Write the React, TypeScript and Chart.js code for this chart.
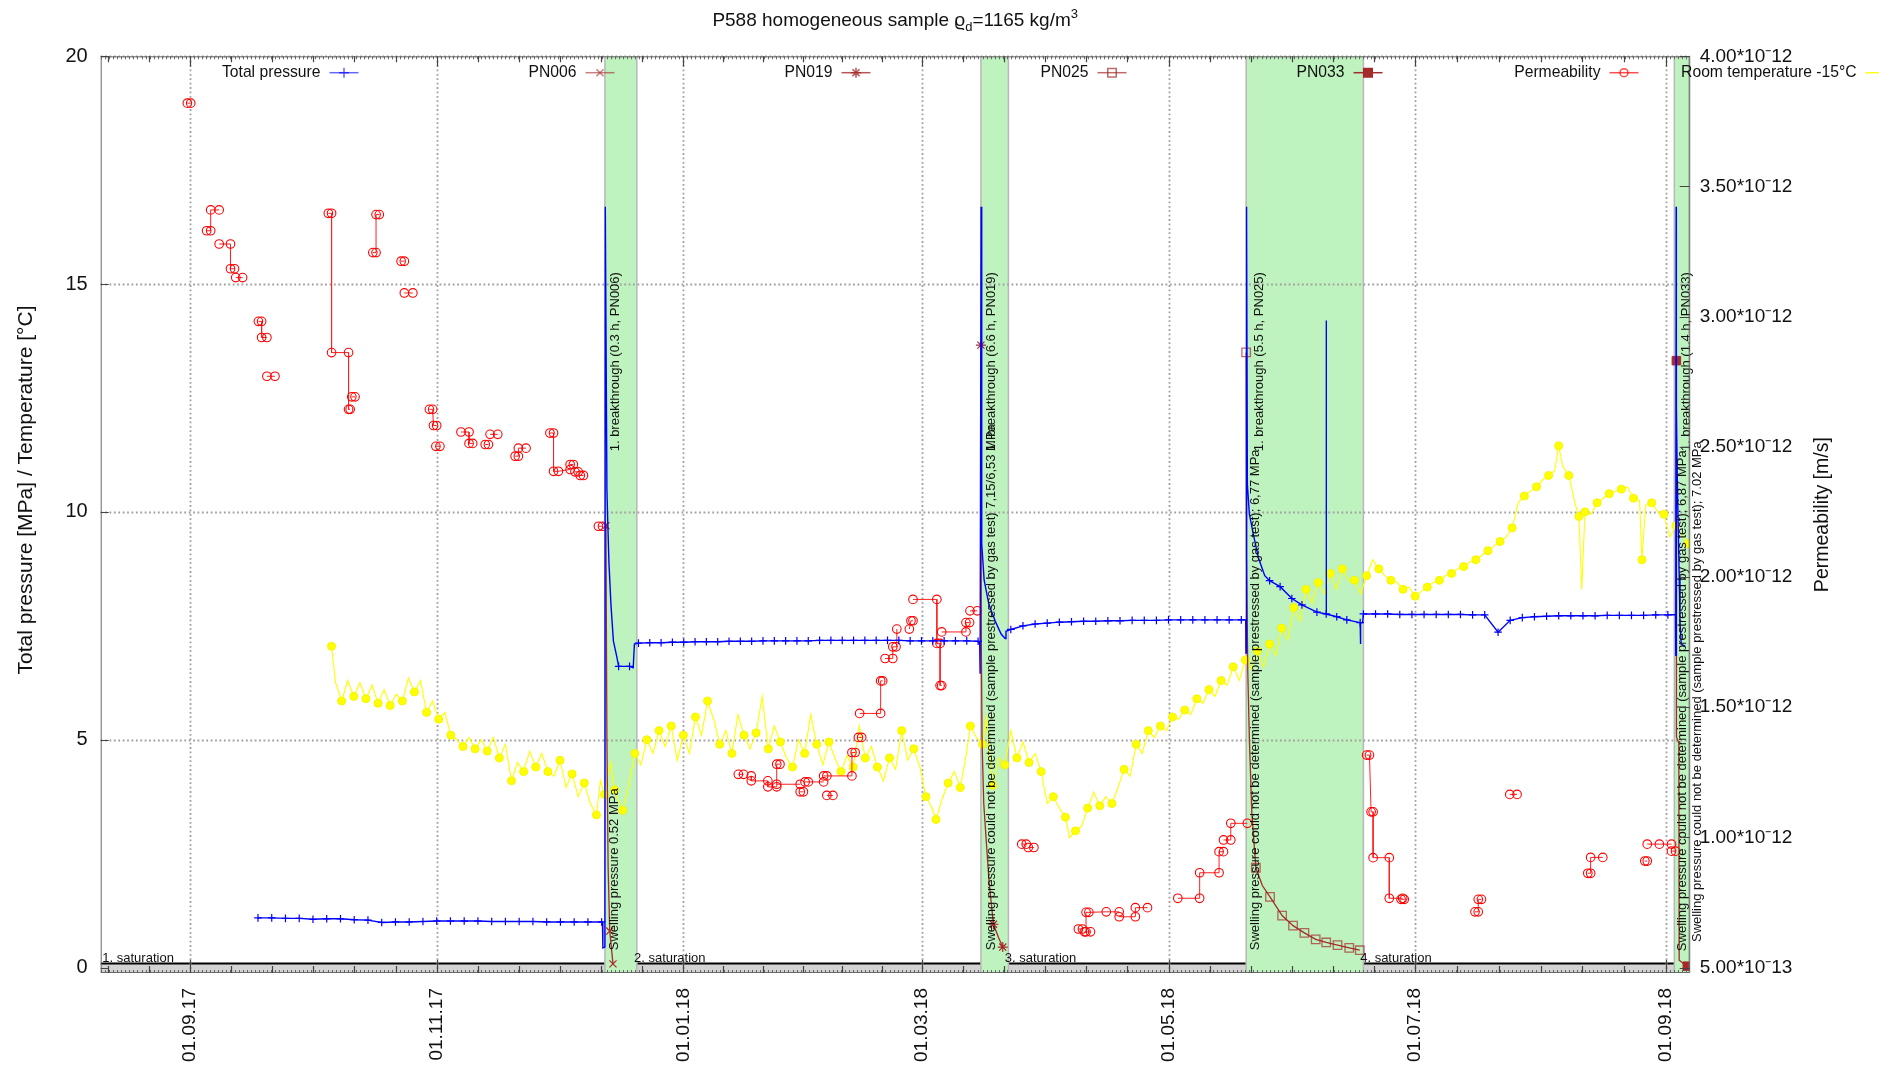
import React, { useEffect, useRef } from "react";
import { Chart, registerables } from "chart.js";
import { drawPoint } from "chart.js/helpers";

Chart.register(...registerables);

// ---------------- axes ----------------
// x values are days counted from 01.09.2017
const dateTickDays = [0, 61, 122, 181, 242, 303, 365];
const dateTickLabels = ["01.09.17", "01.11.17", "01.01.18", "01.03.18", "01.05.18", "01.07.18", "01.09.18"];
const xRange = [-22.1, 370.9];
const pressureTicks = [0, 5, 10, 15, 20];
const pressureRange = [-0.12, 20];
// permeability in units of 1e-12 m/s
const permTicks = [0.5, 1.0, 1.5, 2.0, 2.5, 3.0, 3.5, 4.0];
const permTickLabels = ["5.00*10⁻13", "1.00*10⁻12", "1.50*10⁻12", "2.00*10⁻12", "2.50*10⁻12", "3.00*10⁻12", "3.50*10⁻12", "4.00*10⁻12"];
const permRange = [0.479, 4.0];

// ---------------- phases ----------------
const gasTestBands = [[102.6, 110.5], [195.6, 202.4], [261.2, 290.2], [367.1, 370.9]];
const saturationPeriods = [[-22.1, 102.6], [110.5, 195.6], [202.4, 261.2], [290.2, 367.1]];
const saturationLabels = ["1. saturation", "2. saturation", "3. saturation", "4. saturation"];
const saturationLabelDays = [-21.7, 109.8, 201.5, 289.4];
const saturationBarTop = 0.09;

const bandNotes = [
  "Swelling pressure 0.52 MPa",
  "1. breakthrough (0.3 h, PN006)",
  "Swelling pressure could not be determined (sample prestressed by gas test) 7,15/6,53 MPa",
  "1. breakthrough (6.6 h, PN019)",
  "Swelling pressure could not be determined (sample prestressed by gas test); 6,77 MPa",
  "1. breakthrough (5.5 h, PN025)",
  "Swelling pressure could not be determined (sample prestressed by gas test); 6,87 MPa",
  "1. breakthrough (1.4 h, PN033)",
  "Swelling pressure could not be determined (sample prestressed by gas test); 7.02 MPa",
];
const bandNoteDays = [104.95, 105.3, 198.1, 198.3, 263.4, 264.4, 369.2, 370.2, 372.7];
const bandNoteValues = [0.38, 11.33, 0.38, 11.33, 0.38, 11.33, 0.36, 11.33, 0.56];

// ---------------- total pressure [MPa] ----------------
const pressureSeries = [
  [[16.8, 1.09], [20.2, 1.09], [23.6, 1.08], [27.0, 1.08], [30.4, 1.06], [33.8, 1.07], [37.2, 1.07], [40.6, 1.05], [44.0, 1.04], [47.4, 0.99], [50.8, 1.0], [54.2, 1.0], [57.6, 1.01], [61.0, 1.02], [64.4, 1.02], [67.8, 1.02], [71.2, 1.02], [74.6, 1.01], [78.0, 1.01], [81.4, 1.01], [84.8, 1.01], [88.2, 1.0], [91.6, 1.0], [95.0, 1.0], [98.4, 1.0], [101.8, 1.0]],
  [[106.0, 6.61], [108.7, 6.61]],
  [[110.9, 7.12], [113.7, 7.13], [116.5, 7.13], [119.3, 7.14], [122.1, 7.14], [124.9, 7.15], [127.7, 7.15], [130.5, 7.15], [133.3, 7.16], [136.1, 7.16], [138.9, 7.16], [141.7, 7.17], [144.5, 7.17], [147.3, 7.17], [150.1, 7.17], [152.9, 7.17], [155.7, 7.18], [158.5, 7.18], [161.3, 7.18], [164.1, 7.18], [166.9, 7.18], [169.7, 7.18], [172.5, 7.18], [175.3, 7.18], [178.1, 7.17], [180.9, 7.17], [183.7, 7.17], [186.5, 7.17], [189.3, 7.17], [192.1, 7.17], [194.9, 7.16]],
  [[203.0, 7.42], [206.0, 7.5], [209.0, 7.54], [212.0, 7.56], [215.0, 7.58], [218.0, 7.59], [221.0, 7.6], [224.0, 7.6], [227.0, 7.61], [230.0, 7.61], [233.0, 7.62], [236.0, 7.62], [239.0, 7.62], [242.0, 7.63], [245.0, 7.63], [248.0, 7.63], [251.0, 7.63], [254.0, 7.63], [257.0, 7.63], [260.0, 7.63]],
  [[267.0, 8.49], [269.6, 8.36], [272.5, 8.1], [275.0, 7.96], [278.7, 7.8], [281.0, 7.76], [283.6, 7.7], [286.1, 7.63], [289.4, 7.57]],
  [[290.2, 7.76], [293.2, 7.76], [296.2, 7.76], [299.2, 7.75], [302.2, 7.75], [305.2, 7.75], [308.2, 7.75], [311.2, 7.75], [314.2, 7.75], [317.2, 7.74], [320.2, 7.74], [323.5, 7.36], [326.5, 7.62], [329.5, 7.68], [332.5, 7.7], [335.5, 7.71], [338.5, 7.72], [341.5, 7.72], [344.5, 7.72], [347.5, 7.72], [350.5, 7.73], [353.5, 7.73], [356.5, 7.73], [359.5, 7.73], [362.5, 7.74], [365.5, 7.74]],
];
const pressureTransients = [
  [[101.8, 1.0], [102.0, 1.0], [102.1, 0.43], [102.6, 0.45], [102.7, 16.7], [103.1, 10.5], [103.3, 9.81], [103.6, 8.89], [104.1, 7.96], [104.7, 7.17], [105.5, 6.84], [106.0, 6.61]],
  [[108.7, 6.61], [109.6, 6.58], [109.9, 7.1], [110.9, 7.12]],
  [[194.9, 7.16], [195.3, 7.1], [195.4, 6.45], [195.6, 6.45], [195.65, 16.7], [195.8, 9.3], [196.4, 8.5], [197.6, 7.96], [199.3, 7.57], [200.6, 7.32], [201.6, 7.22], [201.8, 7.38], [203.0, 7.42]],
  [[260.0, 7.63], [261.1, 7.63], [261.15, 6.9], [261.25, 6.9], [261.3, 16.7], [261.5, 10.6], [262.0, 9.95], [263.0, 9.5], [264.2, 9.0], [265.8, 8.6], [267.0, 8.49]],
  [[281.0, 7.76], [281.02, 14.2], [281.04, 7.76]],
  [[289.4, 7.57], [289.45, 7.1], [289.55, 7.57], [290.0, 7.57], [290.2, 7.76]],
  [[365.5, 7.74], [367.4, 7.75], [367.45, 6.84], [367.55, 16.7], [367.6, 6.84]],
  [[367.6, 12.3], [367.8, 10.9], [368.1, 9.5], [368.3, 8.6], [368.5, 7.6], [368.8, 7.1], [369.8, 7.05]],
];

// ---------------- swelling-pressure decay curves [MPa] ----------------
const pn006 = [[102.85, 9.7], [103.1, 5.0], [103.4, 2.2], [103.8, 0.8], [104.6, 0.08]];
const pn019 = [[195.6, 13.66], [195.7, 7.0], [195.9, 4.9], [196.3, 3.6], [196.8, 2.94], [197.6, 1.9], [198.7, 0.95], [200.0, 0.65], [201.0, 0.45]];
const pn025 = [[261.2, 13.5], [261.3, 9.0], [261.6, 6.5], [262.0, 5.0], [262.6, 3.4], [263.6, 2.19], [265.2, 1.8], [267.1, 1.55], [270.1, 1.14], [272.8, 0.92], [275.6, 0.76], [278.4, 0.62], [281.0, 0.55], [283.8, 0.49], [286.7, 0.43], [289.3, 0.38]];
const pn033 = [[367.6, 13.32], [367.62, 5.06], [368.2, 4.93], [368.3, 0.16], [370.3, 0.03]];

// ---------------- permeability [1e-12 m/s] ----------------
const permeability = [
  [[-0.67, 3.82], [0.17, 3.82]],
  [[4.1, 3.33], [5.1, 3.33], [5.1, 3.41], [7.2, 3.41]],
  [[7.2, 3.279], [10.0, 3.279], [10.0, 3.184], [11.0, 3.184]],
  [[11.3, 3.15], [13.0, 3.15]],
  [[16.9, 2.982], [17.7, 2.982], [17.7, 2.92], [19.0, 2.92]],
  [[19.0, 2.771], [21.0, 2.771]],
  [[34.2, 3.397], [35.0, 3.397], [35.0, 2.862], [39.2, 2.862], [39.2, 2.644], [39.6, 2.644]],
  [[40.0, 2.692], [40.8, 2.692]],
  [[45.2, 3.246], [46.0, 3.246], [46.0, 3.392], [46.8, 3.392]],
  [[52.2, 3.213], [53.0, 3.213]],
  [[53.0, 3.091], [55.1, 3.091]],
  [[59.2, 2.644], [60.0, 2.644], [60.2, 2.582], [61.0, 2.582]],
  [[60.8, 2.502], [61.8, 2.502]],
  [[67.0, 2.557], [69.0, 2.557], [69.0, 2.513], [69.9, 2.513]],
  [[73.0, 2.509], [73.8, 2.509]],
  [[74.2, 2.548], [76.1, 2.548]],
  [[80.4, 2.464], [81.2, 2.464], [81.2, 2.495], [83.1, 2.495]],
  [[89.0, 2.553], [89.9, 2.553], [89.9, 2.406], [91.1, 2.406], [94.0, 2.413]],
  [[94.0, 2.432], [94.8, 2.432]],
  [[95.2, 2.404], [96.0, 2.404]],
  [[96.5, 2.39], [97.3, 2.39]],
  [[101.0, 2.195], [102.0, 2.195]],
  [[135.6, 1.242], [136.9, 1.242]],
  [[138.8, 1.236], [138.8, 1.217], [142.9, 1.217], [142.9, 1.194], [145.1, 1.194], [145.1, 1.281], [145.9, 1.281]],
  [[145.1, 1.204], [150.9, 1.204]],
  [[150.9, 1.175], [151.7, 1.175]],
  [[152.1, 1.213], [152.9, 1.213], [156.7, 1.213]],
  [[157.5, 1.161], [159.0, 1.161]],
  [[156.7, 1.236], [157.5, 1.236], [163.7, 1.236], [163.7, 1.326], [164.5, 1.326]],
  [[165.3, 1.384], [166.1, 1.384]],
  [[165.6, 1.476], [170.8, 1.476], [170.8, 1.601], [171.3, 1.601]],
  [[171.9, 1.687], [173.8, 1.687], [173.8, 1.732], [174.6, 1.732], [174.8, 1.8]],
  [[177.9, 1.8], [178.3, 1.832], [178.8, 1.832]],
  [[178.8, 1.914], [184.7, 1.914], [184.7, 1.745], [185.5, 1.745], [185.5, 1.583], [185.9, 1.583]],
  [[185.9, 1.789], [191.9, 1.789], [191.9, 1.825], [192.8, 1.825]],
  [[192.9, 1.87], [194.7, 1.87]],
  [[205.7, 0.974], [206.8, 0.974]],
  [[207.3, 0.961], [208.7, 0.961]],
  [[219.7, 0.648], [220.7, 0.648]],
  [[221.2, 0.637], [222.7, 0.637]],
  [[221.6, 0.637], [221.6, 0.712], [222.3, 0.712], [226.6, 0.714], [229.8, 0.714]],
  [[229.8, 0.695], [233.8, 0.695], [233.8, 0.73], [236.8, 0.73]],
  [[244.3, 0.766], [249.7, 0.766], [249.7, 0.864], [254.5, 0.864], [254.5, 0.945], [255.6, 0.945]],
  [[255.6, 0.99], [257.4, 0.99], [257.4, 1.054], [261.5, 1.054]],
  [[291.0, 1.316], [291.7, 1.316], [292.1, 1.098], [292.6, 1.098], [292.6, 0.922], [296.6, 0.922], [296.6, 0.766], [299.9, 0.766]],
  [[299.5, 0.762], [300.3, 0.762]],
  [[317.8, 0.714], [318.6, 0.714], [318.6, 0.762], [319.4, 0.762]],
  [[326.4, 1.165], [328.2, 1.165]],
  [[345.7, 0.862], [346.4, 0.862], [346.4, 0.923], [349.4, 0.923]],
  [[359.8, 0.909], [360.4, 0.909]],
  [[360.4, 0.974], [363.4, 0.974], [366.4, 0.974]],
  [[366.4, 0.947], [367.4, 0.947]],
];

// ---------------- room temperature - 15 °C ----------------
const roomTemperature = [
  [35.0, 7.05], [36.0, 6.25], [37.5, 5.85], [39.0, 6.3], [40.5, 5.95], [42.0, 6.25], [43.5, 5.9], [45.0, 6.2], [46.5, 5.8], [48.0, 6.1],
  [49.5, 5.75], [51.0, 6.0], [52.5, 5.85], [54.0, 6.35], [55.5, 6.05], [57.0, 6.3], [58.5, 5.6], [60.0, 5.85], [61.5, 5.45], [63.0, 5.6],
  [64.5, 5.1], [66.0, 5.0], [67.5, 4.85], [69.0, 5.05], [70.5, 4.8], [72.0, 5.0], [73.5, 4.75], [75.0, 5.05], [76.5, 4.6], [78.0, 4.9],
  [79.5, 4.1], [81.0, 4.5], [82.5, 4.3], [84.0, 4.75], [85.5, 4.4], [87.0, 4.7], [88.5, 4.3], [90.0, 4.2], [91.5, 4.55], [93.0, 3.95],
  [94.5, 4.25], [96.0, 3.75], [97.5, 4.05], [99.0, 3.6], [100.5, 3.35], [101.5, 4.1], [102.5, 3.8], [104.0, 4.5], [105.0, 3.9], [106.0, 3.65],
  [107.0, 3.45], [108.5, 4.0], [110.0, 4.7], [111.5, 4.45], [113.0, 5.0], [114.5, 4.7], [116.0, 5.2], [117.5, 4.85], [119.0, 5.3], [120.5, 4.55],
  [122.0, 5.1], [123.5, 4.7], [125.0, 5.5], [126.5, 5.1], [128.0, 5.85], [129.5, 5.45], [131.0, 4.9], [132.5, 5.2], [134.0, 4.7], [135.5, 5.55],
  [137.0, 5.1], [138.5, 4.8], [140.0, 5.15], [141.5, 5.95], [143.0, 4.8], [144.5, 5.3], [146.0, 4.95], [147.5, 4.6], [149.0, 4.4], [150.5, 5.0],
  [152.0, 4.7], [153.5, 5.55], [155.0, 4.9], [156.5, 4.45], [158.0, 4.95], [159.5, 4.6], [161.0, 4.3], [162.5, 4.65], [164.0, 4.4], [165.5, 5.3],
  [167.0, 4.6], [168.5, 4.85], [170.0, 4.4], [171.5, 4.1], [173.0, 4.6], [174.5, 4.35], [176.0, 5.2], [177.5, 4.55], [179.0, 4.8], [180.5, 4.4],
  [182.0, 3.75], [183.5, 3.5], [184.5, 3.25], [186.0, 3.7], [187.5, 4.05], [189.0, 4.3], [190.5, 3.95], [192.0, 4.7], [193.0, 5.3], [194.5, 5.05],
  [196.0, 4.9], [197.0, 5.5], [198.5, 4.0], [200.0, 4.6], [201.5, 4.45], [203.0, 5.2], [204.5, 4.6], [206.0, 4.95], [207.5, 4.5], [209.0, 4.7],
  [210.5, 4.3], [212.0, 3.6], [213.5, 3.75], [215.0, 3.5], [216.5, 3.3], [217.5, 2.85], [219.0, 3.0], [220.5, 3.1], [222.0, 3.5], [223.5, 3.85],
  [225.0, 3.55], [226.5, 3.75], [228.0, 3.6], [229.5, 3.95], [231.0, 4.35], [232.5, 4.2], [234.0, 4.9], [235.5, 4.7], [237.0, 5.2], [238.5, 5.05],
  [240.0, 5.3], [241.5, 5.2], [243.0, 5.5], [244.5, 5.45], [246.0, 5.65], [247.5, 5.55], [249.0, 5.9], [250.5, 5.8], [252.0, 6.1], [253.5, 5.95],
  [255.0, 6.3], [256.5, 6.2], [258.0, 6.6], [259.5, 6.3], [261.0, 6.75], [262.5, 6.55], [264.0, 6.95], [265.5, 6.6], [267.0, 7.1], [268.5, 6.85],
  [270.0, 7.45], [271.5, 7.2], [273.0, 7.9], [274.5, 7.6], [276.0, 8.3], [277.5, 8.0], [279.0, 8.45], [280.5, 8.2], [282.0, 8.65], [283.5, 8.3],
  [285.0, 8.75], [286.5, 8.5], [288.0, 8.5], [289.5, 8.2], [291.0, 8.6], [292.5, 8.95], [294.0, 8.75], [295.5, 8.6], [297.0, 8.5], [298.5, 8.45],
  [300.0, 8.3], [301.5, 8.35], [303.0, 8.15], [304.5, 8.25], [306.0, 8.35], [307.5, 8.45], [309.0, 8.5], [310.5, 8.6], [312.0, 8.65], [313.5, 8.75],
  [315.0, 8.8], [316.5, 8.9], [318.0, 8.95], [319.5, 9.05], [321.0, 9.15], [322.5, 9.25], [324.0, 9.35], [325.5, 9.45], [327.0, 9.65], [328.5, 10.2],
  [330.0, 10.35], [331.5, 10.45], [333.0, 10.55], [334.5, 10.7], [336.0, 10.8], [337.5, 10.9], [338.5, 11.45], [339.5, 11.0], [341.0, 10.8], [342.5, 10.2],
  [343.5, 9.9], [344.2, 8.3], [345.0, 10.0], [346.5, 9.95], [348.0, 10.2], [349.5, 10.3], [351.0, 10.4], [352.5, 10.45], [354.0, 10.5], [355.5, 10.55],
  [357.0, 10.3], [358.5, 10.25], [359.1, 8.95], [360.0, 10.15], [361.5, 10.2], [363.0, 10.0], [364.5, 9.95], [366.0, 9.45], [367.5, 9.7], [369.0, 9.5],
  [370.5, 9.3],
];

// ---------------- styling ----------------
const W = 1879;
const H = 1065;
const BROWN = "#a52a2a";
const FONT = (s: number) => `${s}px "Liberation Sans", Arial, Helvetica, sans-serif`;
const BAND_FILL = "rgb(190,242,190)";

const toXY = (pairs: number[][]) => pairs.map(([x, y]) => ({ x, y }));
const joinGroups = (groups: number[][][]) => {
  const out: any[] = [];
  groups.forEach((g, i) => {
    if (i > 0) out.push({ x: g[0][0], y: null });
    g.forEach(([x, y]) => out.push({ x, y }));
  });
  return out;
};

const legendEntries = [
  { label: "Total pressure", color: "rgba(0,0,255,0.6)", style: "cross", radius: 5, fill: false },
  { label: "PN006", color: "rgba(165,42,42,0.6)", style: "crossRot", radius: 5, fill: false },
  { label: "PN019", color: "rgba(165,42,42,0.8)", style: "star", radius: 5, fill: false },
  { label: "PN025", color: "rgba(165,42,42,0.7)", style: "rect", radius: 6, fill: false },
  { label: "PN033", color: "rgba(165,42,42,1)", style: "rect", radius: 6, fill: true },
  { label: "Permeability", color: "rgba(255,0,0,0.7)", style: "circle", radius: 4, fill: false },
  { label: "Room temperature -15°C", color: "rgba(255,255,0,0.9)", style: null, radius: 0, fill: false },
];

function minorTickDays() {
  const out: number[] = [];
  for (let i = 0; i < dateTickDays.length - 1; i++) {
    const step = (dateTickDays[i + 1] - dateTickDays[i]) / 6;
    for (let k = 1; k < 6; k++) out.push(dateTickDays[i] + k * step);
  }
  const firstStep = (dateTickDays[1] - dateTickDays[0]) / 6;
  for (let k = 1; dateTickDays[0] - k * firstStep >= xRange[0]; k++) out.push(dateTickDays[0] - k * firstStep);
  return out;
}

const decorPlugin = {
  id: "decor",
  beforeDatasetsDraw(chart: any) {
    const { ctx, chartArea: a, scales } = chart;
    const xs = scales.x;
    const ys = scales.y;
    ctx.save();
    const yTop = ys.getPixelForValue(saturationBarTop);
    for (const [s, e] of saturationPeriods) {
      const x0 = Math.max(a.left, xs.getPixelForValue(s));
      const x1 = Math.min(a.right, xs.getPixelForValue(e));
      ctx.fillStyle = "#d3d3d3";
      ctx.fillRect(x0, yTop, x1 - x0, a.bottom - yTop);
      ctx.strokeStyle = "#000";
      ctx.lineWidth = 2;
      ctx.beginPath();
      ctx.moveTo(x0, yTop);
      ctx.lineTo(x1, yTop);
      ctx.stroke();
    }
    for (const [s, e] of gasTestBands) {
      const x0 = xs.getPixelForValue(s);
      const x1 = Math.min(a.right, xs.getPixelForValue(e));
      ctx.fillStyle = BAND_FILL;
      ctx.fillRect(x0, a.top, x1 - x0, a.bottom - a.top);
      ctx.strokeStyle = "#b8b8b8";
      ctx.lineWidth = 1.5;
      ctx.beginPath();
      ctx.moveTo(x0, a.top);
      ctx.lineTo(x0, a.bottom);
      ctx.moveTo(x1, a.top);
      ctx.lineTo(x1, a.bottom);
      ctx.stroke();
    }
    ctx.strokeStyle = "#a0a0a0";
    ctx.lineWidth = 1.8;
    ctx.setLineDash([1.8, 2.6]);
    ctx.beginPath();
    for (const d of dateTickDays) {
      const px = Math.round(xs.getPixelForValue(d)) + 0.5;
      ctx.moveTo(px, a.top);
      ctx.lineTo(px, a.bottom);
    }
    for (const v of pressureTicks) {
      if (v <= 0) continue;
      const py = Math.round(ys.getPixelForValue(v)) + 0.5;
      ctx.moveTo(a.left, py);
      ctx.lineTo(a.right, py);
    }
    ctx.stroke();
    ctx.setLineDash([]);
    ctx.restore();
  },
  afterDatasetsDraw(chart: any) {
    const { ctx, scales } = chart;
    const xs = scales.x;
    const ys = scales.y;
    ctx.save();
    ctx.fillStyle = "#111";
    ctx.font = FONT(13);
    ctx.textAlign = "left";
    ctx.textBaseline = "middle";
    bandNotes.forEach((t, i) => {
      ctx.save();
      ctx.translate(xs.getPixelForValue(bandNoteDays[i]), ys.getPixelForValue(bandNoteValues[i]));
      ctx.rotate(-Math.PI / 2);
      ctx.fillText(t, 0, 0);
      ctx.restore();
    });
    ctx.textBaseline = "alphabetic";
    const yTop = ys.getPixelForValue(saturationBarTop);
    saturationLabels.forEach((t, i) => {
      ctx.fillText(t, xs.getPixelForValue(saturationLabelDays[i]), yTop - 1.5);
    });
    ctx.restore();
  },
  afterDraw(chart: any) {
    const { ctx, chartArea: a, scales } = chart;
    const xs = scales.x;
    const ys = scales.y;
    const y2 = scales.y2;
    ctx.save();
    ctx.strokeStyle = "#6a6a6a";
    ctx.lineWidth = 1;
    ctx.strokeRect(a.left + 0.5, a.top + 0.5, a.right - a.left - 1, a.bottom - a.top - 1);
    ctx.strokeStyle = "#666";
    ctx.beginPath();
    for (let d = Math.ceil(xRange[0]); d <= xRange[1]; d++) {
      const px = Math.round(xs.getPixelForValue(d)) + 0.5;
      ctx.moveTo(px, a.top);
      ctx.lineTo(px, a.top + 3);
      ctx.moveTo(px, a.bottom);
      ctx.lineTo(px, a.bottom - 3);
    }
    ctx.stroke();
    ctx.strokeStyle = "#444";
    ctx.lineWidth = 1.2;
    ctx.beginPath();
    for (const d of minorTickDays()) {
      const px = Math.round(xs.getPixelForValue(d)) + 0.5;
      ctx.moveTo(px, a.top);
      ctx.lineTo(px, a.top + 6);
      ctx.moveTo(px, a.bottom);
      ctx.lineTo(px, a.bottom - 7);
    }
    for (const d of dateTickDays) {
      const px = Math.round(xs.getPixelForValue(d)) + 0.5;
      ctx.moveTo(px, a.top);
      ctx.lineTo(px, a.top + 10);
      ctx.moveTo(px, a.bottom);
      ctx.lineTo(px, a.bottom - 13);
    }
    for (const v of pressureTicks) {
      const py = Math.round(ys.getPixelForValue(v)) + 0.5;
      ctx.moveTo(a.left, py);
      ctx.lineTo(a.left + 8, py);
    }
    for (const v of permTicks) {
      const py = Math.round(y2.getPixelForValue(v)) + 0.5;
      ctx.moveTo(a.right, py);
      ctx.lineTo(a.right - 10, py);
    }
    ctx.stroke();

    ctx.fillStyle = "#111";
    ctx.font = FONT(19);
    ctx.textAlign = "right";
    ctx.textBaseline = "middle";
    dateTickDays.forEach((d, i) => {
      ctx.save();
      ctx.translate(xs.getPixelForValue(d), a.bottom + 15);
      ctx.rotate(-Math.PI / 2);
      ctx.fillText(dateTickLabels[i], 0, 0);
      ctx.restore();
    });
    ctx.font = FONT(20);
    pressureTicks.forEach((v) => {
      ctx.fillText(String(v), a.left - 13, ys.getPixelForValue(v));
    });
    ctx.font = FONT(19);
    ctx.textAlign = "left";
    permTicks.forEach((v, i) => {
      ctx.fillText(permTickLabels[i], a.right + 10, y2.getPixelForValue(v));
    });
    ctx.textAlign = "center";
    ctx.save();
    ctx.font = FONT(21);
    ctx.translate(26, 490);
    ctx.rotate(-Math.PI / 2);
    ctx.fillText("Total pressure [MPa] / Temperature [°C]", 0, 0);
    ctx.restore();
    ctx.save();
    ctx.font = FONT(19.5);
    ctx.translate(1823, (a.top + a.bottom) / 2);
    ctx.rotate(-Math.PI / 2);
    ctx.fillText("Permeability [m/s]", 0, 0);
    ctx.restore();

    const parts = [
      { t: "P588 homogeneous sample ϱ", s: 19, dy: 0 },
      { t: "d", s: 13, dy: 5 },
      { t: "=1165 kg/m", s: 19, dy: 0 },
      { t: "3", s: 13, dy: -8 },
    ];
    let total = 0;
    parts.forEach((p) => {
      ctx.font = FONT(p.s);
      total += ctx.measureText(p.t).width;
    });
    let tx = (a.left + a.right) / 2 - total / 2;
    ctx.textAlign = "left";
    ctx.textBaseline = "alphabetic";
    parts.forEach((p) => {
      ctx.font = FONT(p.s);
      ctx.fillText(p.t, tx, 26 + p.dy);
      tx += ctx.measureText(p.t).width;
    });

    ctx.font = FONT(15.7);
    ctx.textBaseline = "middle";
    const ly = 72.7;
    legendEntries.forEach((e, i) => {
      const sx = 329.5 + 256 * i;
      ctx.fillStyle = "#111";
      ctx.textAlign = "right";
      ctx.fillText(e.label, sx - 9, ly);
      ctx.strokeStyle = e.color;
      ctx.lineWidth = 1.5;
      ctx.beginPath();
      ctx.moveTo(sx, ly);
      ctx.lineTo(sx + 29, ly);
      ctx.stroke();
      if (e.style) {
        ctx.fillStyle = e.fill ? e.color : "rgba(0,0,0,0)";
        drawPoint(ctx, { pointStyle: e.style, radius: e.radius, rotation: 0, borderWidth: 1.3 } as any, sx + 14.5, ly);
      }
    });
    ctx.restore();
  },
};

export default function App() {
  const ref = useRef<HTMLCanvasElement>(null);
  useEffect(() => {
    document.body.style.margin = "0";
    document.body.style.overflow = "hidden";
    const canvas = ref.current!;
    const chart = new Chart(canvas, {
      type: "line",
      data: {
        datasets: [
          {
            label: "Total pressure",
            data: joinGroups(pressureSeries),
            yAxisID: "y",
            borderColor: "#0000ff",
            borderWidth: 1.4,
            pointStyle: "cross",
            pointRadius: 3.8,
            pointBorderWidth: 1.2,
            pointBorderColor: "#0000ff",
            pointBackgroundColor: "rgba(0,0,0,0)",
            spanGaps: false,
            order: 0,
          },
          {
            label: "Total pressure (transients)",
            data: joinGroups(pressureTransients),
            yAxisID: "y",
            borderColor: "#0000ff",
            borderWidth: 1.4,
            pointRadius: 0,
            spanGaps: false,
            order: 0,
          },
          {
            label: "PN006",
            data: toXY(pn006),
            yAxisID: "y",
            borderColor: BROWN,
            borderWidth: 1.3,
            pointStyle: "crossRot",
            pointRadius: [5, 0, 0, 5, 5],
            pointBorderColor: BROWN,
            pointBorderWidth: 1.2,
            order: 1,
          },
          {
            label: "PN019",
            data: toXY(pn019),
            yAxisID: "y",
            borderColor: BROWN,
            borderWidth: 1.3,
            pointStyle: "star",
            pointRadius: [5, 0, 0, 0, 0, 0, 5, 0, 5],
            pointBorderColor: BROWN,
            pointBorderWidth: 1.2,
            order: 1,
          },
          {
            label: "PN025",
            data: toXY(pn025),
            yAxisID: "y",
            borderColor: BROWN,
            borderWidth: 1.3,
            pointStyle: "rect",
            pointRadius: [6, 0, 0, 0, 0, 6, 0, 6, 6, 6, 6, 6, 6, 6, 6, 6],
            pointBorderColor: "rgba(165,42,42,0.7)",
            pointBackgroundColor: "rgba(0,0,0,0)",
            pointBorderWidth: 1.3,
            order: 1,
          },
          {
            label: "PN033",
            data: toXY(pn033),
            yAxisID: "y",
            borderColor: BROWN,
            borderWidth: 1.3,
            pointStyle: "rect",
            pointRadius: [6, 0, 0, 0, 6],
            pointBorderColor: BROWN,
            pointBackgroundColor: BROWN,
            pointBorderWidth: 1,
            order: 1,
          },
          {
            label: "Permeability",
            data: joinGroups(permeability),
            yAxisID: "y2",
            borderColor: "#ff2020",
            borderWidth: 1,
            pointStyle: "circle",
            pointRadius: 4.3,
            pointBorderColor: "#ff0000",
            pointBackgroundColor: "rgba(0,0,0,0)",
            pointBorderWidth: 1.1,
            spanGaps: false,
            order: 2,
          },
          {
            label: "Room temperature -15°C",
            data: toXY(roomTemperature),
            yAxisID: "y",
            borderColor: "#ffff00",
            borderWidth: 1.1,
            pointStyle: "circle",
            pointRadius: (c: any) => (c.dataIndex % 2 === 0 ? 4 : 0),
            pointBorderColor: "#f5f500",
            pointBackgroundColor: "#ffff00",
            pointBorderWidth: 1,
            order: 3,
          },
        ] as any,
      },
      options: {
        animation: false,
        responsive: false,
        devicePixelRatio: 1,
        events: [],
        layout: { padding: { left: 100.7, right: 189.3, top: 56.3, bottom: 92 } },
        plugins: { legend: { display: false }, title: { display: false }, tooltip: { enabled: false } },
        elements: { line: { tension: 0 } },
        scales: {
          x: { type: "linear", min: xRange[0], max: xRange[1], display: false },
          y: { type: "linear", min: pressureRange[0], max: pressureRange[1], display: false },
          y2: { type: "linear", min: permRange[0], max: permRange[1], display: false, position: "right" },
        },
      } as any,
      plugins: [decorPlugin],
    });
    return () => chart.destroy();
  }, []);
  return <canvas ref={ref} width={W} height={H} style={{ display: "block", width: W, height: H }} />;
}
